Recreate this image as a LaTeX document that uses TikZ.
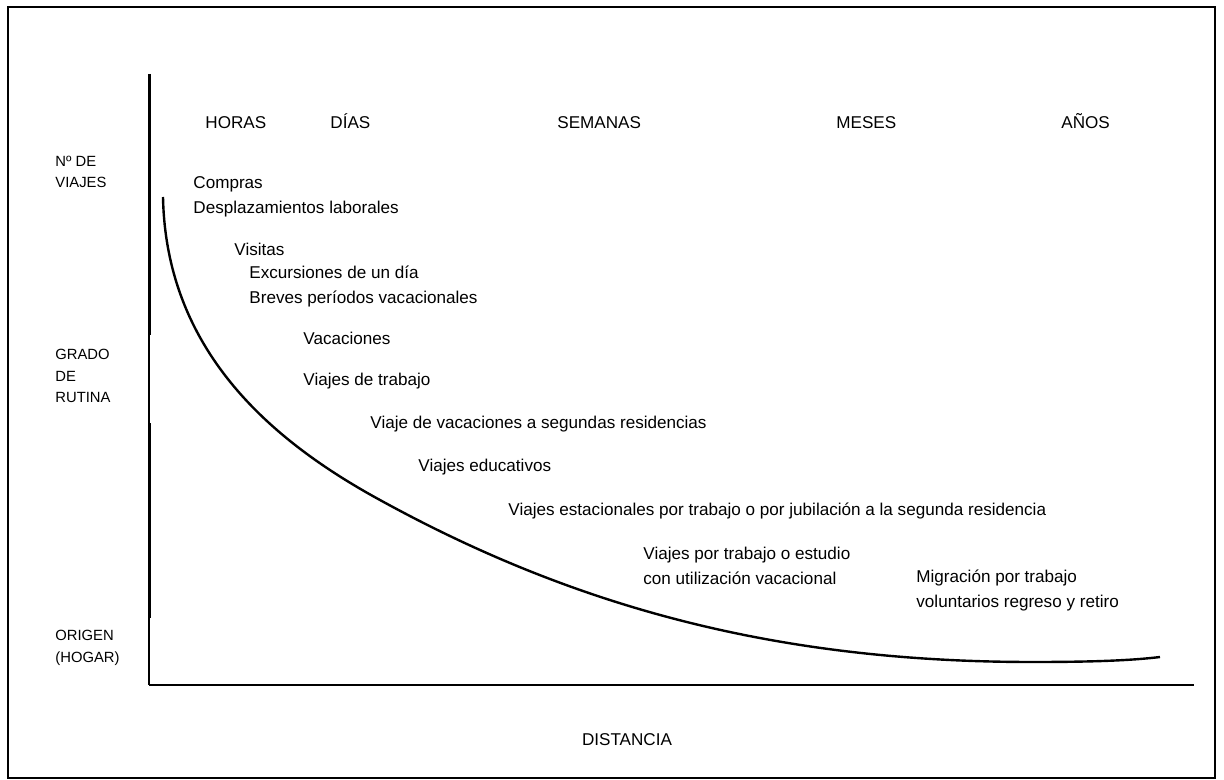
\documentclass[tikz,border=0pt]{standalone}
\usepackage{fontspec}
\setmainfont{Liberation Sans}
\begin{document}
\begin{tikzpicture}[x=0.5pt,y=-0.5pt,
    lbl/.style={anchor=west,inner sep=0pt,align=left,font=\fontsize{8.55}{12.5}\selectfont},
    side/.style={anchor=west,inner sep=0pt,align=left,font=\fontsize{7.4}{10.8}\selectfont},
    thickax/.style={line width=1.5pt},
    thinax/.style={line width=0.75pt}]
    \useasboundingbox (0,0) rectangle (1224,780);
    \draw[line width=1pt] (8,7) rectangle (1215,778);
    % axes
    \coordinate (O) at (149,685);
    \coordinate (Top) at (149,74);
    \coordinate (End) at (1194,685);
    \draw[thickax] (Top) -- (149,335);
    \draw[thinax] (149,335) -- (149,423);
    \draw[thickax] (149,423) -- (149,618);
    \draw[thinax] (149,618) -- (O);
    \draw[line width=1pt] (O) -- (End);
    % curve
    \coordinate (S) at (163,197);
    \coordinate (M) at (380,500);
    \coordinate (L) at (1033,662);
    \coordinate (E) at (1160,657);
    \draw[line width=1.2pt] (S) .. controls (166,350) and (270,440) .. (M)
      .. controls (580,610) and (783,662) .. (L)
      .. controls (1100,662) and (1135,660) .. (E);
    % time scale
    \node[lbl,anchor=base west] (horas) at (205,129) {HORAS};
    \node[lbl,anchor=base west] (dias) at (330,129) {DÍAS};
    \node[lbl,anchor=base west] (semanas) at (557,129) {SEMANAS};
    \node[lbl,anchor=base west] (meses) at (836,129) {MESES};
    \node[lbl,anchor=base west] (anos) at (1061,129) {AÑOS};
    % left labels
    \node[side] (viajes) at (55,172) {Nº DE\\VIAJES};
    \node[side] (rutina) at (55,376) {GRADO\\DE\\RUTINA};
    \node[side] (origen) at (55,648) {ORIGEN\\(HOGAR)};
    % types of trips
    \node[lbl] (compras) at (193,197) {Compras\\Desplazamientos laborales};
    \node[lbl] (visitas) at (234,249) {Visitas};
    \node[lbl] (excursiones) at (249,286) {Excursiones de un día\\Breves períodos vacacionales};
    \node[lbl] (vacaciones) at (303,338) {Vacaciones};
    \node[lbl] (trabajo) at (303,381) {Viajes de trabajo};
    \node[lbl] (segundas) at (370,424) {Viaje de vacaciones a segundas residencias};
    \node[lbl] (educativos) at (418,467) {Viajes educativos};
    \node[lbl] (estacionales) at (508,511) {Viajes estacionales por trabajo o por jubilación a la segunda residencia};
    \node[lbl] (estudio) at (643,566) {Viajes por trabajo o estudio\\con utilización vacacional};
    \node[lbl] (migracion) at (916,590) {Migración por trabajo\\voluntarios regreso y retiro};
    \node[lbl,anchor=center] (distancia) at (627,740) {DISTANCIA};
\end{tikzpicture}
\end{document}
